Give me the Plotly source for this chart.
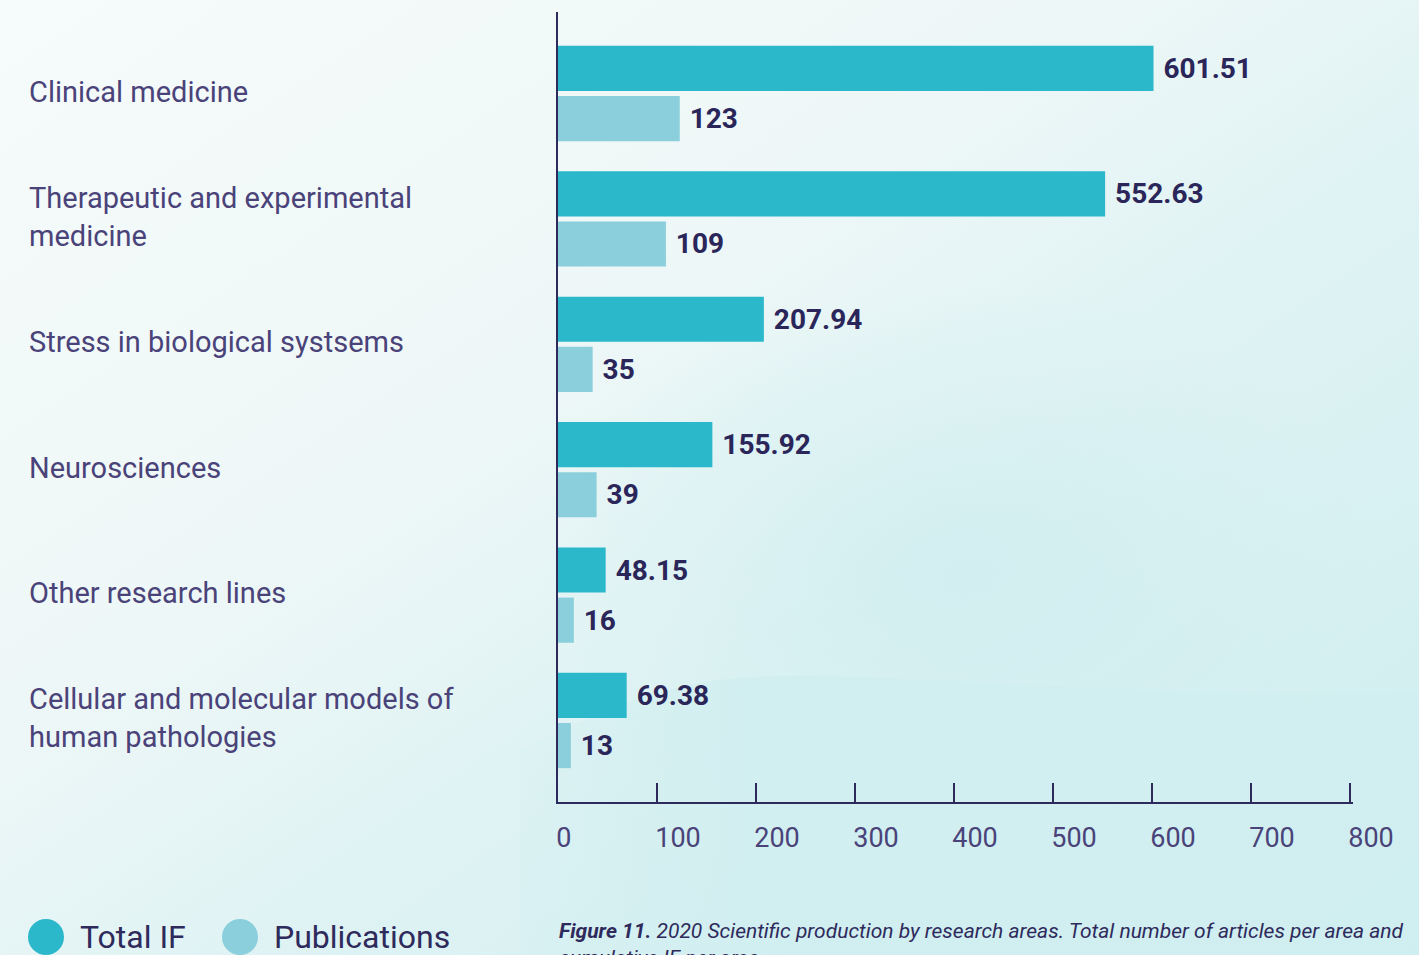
"""Horizontal grouped bars: 2020 scientific production by research area."""
from urllib.parse import quote

import plotly.graph_objects as go

AREAS = [
    "Clinical medicine",
    "Therapeutic and experimental<br>medicine",
    "Stress in biological systsems",
    "Neurosciences",
    "Other research lines",
    "Cellular and molecular models of<br>human pathologies",
]
TOTAL_IF = [601.51, 552.63, 207.94, 155.92, 48.15, 69.38]
PUBLICATIONS = [123, 109, 35, 39, 16, 13]
X_TICKS = [0, 100, 200, 300, 400, 500, 600, 700, 800]

C_IF = "#2bb8cb"
C_PUB = "#8acfdb"
C_AXIS = "#2e2a5c"
C_VAL = "#2a2659"
C_LBL = "#4a4379"
FONT = "Roboto, 'Open Sans', sans-serif"

W, H = 1419, 955
L, R, T, B = 558, 66, 12, 153
PW, PH = W - L - R, H - T - B


def px_x(p):
    return (p - L) / PW


def px_y(p):
    return (H - B - p) / PH


_BG_SVG = f"""<svg xmlns='http://www.w3.org/2000/svg' width='{W}' height='{H}' viewBox='0 0 {W} {H}' preserveAspectRatio='none'>
<defs>
<linearGradient id='g' x1='0' y1='0' x2='1' y2='1'>
<stop offset='0' stop-color='#f6fbfb'/>
<stop offset='0.38' stop-color='#eef7f7'/>
<stop offset='0.62' stop-color='#ddf2f3'/>
<stop offset='1' stop-color='#ceeef0'/>
</linearGradient>
<linearGradient id='w' x1='0' y1='0' x2='1' y2='0'>
<stop offset='0' stop-color='#d0eef0' stop-opacity='0.2'/>
<stop offset='0.3' stop-color='#d0eef0' stop-opacity='0.9'/>
<stop offset='1' stop-color='#d0eef0' stop-opacity='0.6'/>
</linearGradient>
<radialGradient id='r' cx='0.68' cy='0.6' r='0.3'>
<stop offset='0' stop-color='#d0eef0' stop-opacity='0.8'/>
<stop offset='1' stop-color='#d0eef0' stop-opacity='0'/>
</radialGradient>
</defs>
<rect width='{W}' height='{H}' fill='url(#g)'/>
<rect width='{W}' height='{H}' fill='url(#r)'/>
<path d='M 520 750 C 600 712 670 676 780 676 C 960 676 1150 700 1419 690 L 1419 955 L 520 955 Z' fill='url(#w)'/>
</svg>"""

fig = go.Figure()
fig.add_trace(go.Bar(
    y=AREAS, x=TOTAL_IF, name="Total IF", orientation="h",
    marker_color=C_IF, marker_line_width=0,
    text=["\u00a0" + f"{v}" for v in TOTAL_IF], textposition="outside",
    textfont=dict(family=FONT, size=28, color=C_VAL, weight=700),
    constraintext="none", cliponaxis=False, showlegend=False,
))
fig.add_trace(go.Bar(
    y=AREAS, x=PUBLICATIONS, name="Publications", orientation="h",
    marker_color=C_PUB, marker_line_width=0,
    text=["\u00a0" + f"{v}" for v in PUBLICATIONS], textposition="outside",
    textfont=dict(family=FONT, size=28, color=C_VAL, weight=700),
    constraintext="none", cliponaxis=False, showlegend=False,
))

annotations = []
for area in AREAS:
    annotations.append(dict(
        x=px_x(27), xref="paper", y=area, yref="y", xanchor="left", yanchor="middle",
        align="left", text=area, showarrow=False, yshift=2,
        font=dict(family=FONT, size=29, color=C_LBL),
    ))

# legend drawn by hand (plotly caps legend symbol size)
shapes = []
for cx, label, col in [(46, "Total IF", C_IF), (240, "Publications", C_PUB)]:
    shapes.append(dict(
        type="circle", xref="paper", yref="paper",
        xsizemode="pixel", ysizemode="pixel",
        xanchor=px_x(cx), yanchor=px_y(937),
        x0=-18, x1=18, y0=-18, y1=18,
        fillcolor=col, line_width=0,
    ))
    annotations.append(dict(
        x=px_x(cx + 32), xref="paper", y=px_y(937), yref="paper",
        xanchor="left", yanchor="middle", text=label, showarrow=False,
        font=dict(family=FONT, size=32, color=C_AXIS),
    ))

annotations.append(dict(
    x=px_x(557), xref="paper", y=px_y(917), yref="paper",
    xanchor="left", yanchor="top", align="left", showarrow=False,
    text=("<b><i>Figure 11.</i></b><i> 2020 Scientific production by research areas. "
          "Total number of articles per area and<br>cumulative IF per area.</i>"),
    font=dict(family=FONT, size=21, color=C_AXIS),
))

# left-align tick labels on their ticks by padding short labels with figure spaces
width = max(len(str(t)) for t in X_TICKS)
tick_text = [str(t) + "\u2007" * (width - len(str(t))) for t in X_TICKS]

fig.update_layout(
    width=W, height=H,
    margin=dict(l=L, r=R, t=T, b=B, pad=0),
    paper_bgcolor="#eef7f7", plot_bgcolor="rgba(0,0,0,0)",
    barmode="group", bargap=0.2, bargroupgap=0.1,
    showlegend=False,
    annotations=annotations, shapes=shapes,
    images=[dict(
        source="data:image/svg+xml;charset=utf-8," + quote(_BG_SVG),
        xref="paper", yref="paper", x=px_x(0), y=px_y(0),
        sizex=W / PW, sizey=H / PH, xanchor="left", yanchor="top",
        sizing="stretch", layer="below",
    )],
)
fig.update_xaxes(
    range=[0, 803], tickvals=X_TICKS, ticktext=tick_text,
    ticks="inside", ticklen=19, tickwidth=2, tickcolor=C_AXIS,
    showline=True, linecolor=C_AXIS, linewidth=2,
    showgrid=False, zeroline=False,
    tickfont=dict(family=FONT, size=27, color=C_LBL),
    ticklabelshift=21, ticklabelstandoff=11,
)
fig.update_yaxes(
    categoryorder="array", categoryarray=AREAS,
    range=[5.65, -0.65], showticklabels=False, ticks="",
    showline=True, linecolor=C_AXIS, linewidth=2,
    showgrid=False, zeroline=False,
)

fig.write_html(
    "out.html",
    config={"displayModeBar": False},
    post_script="document.body.style.margin='0px';",
)
